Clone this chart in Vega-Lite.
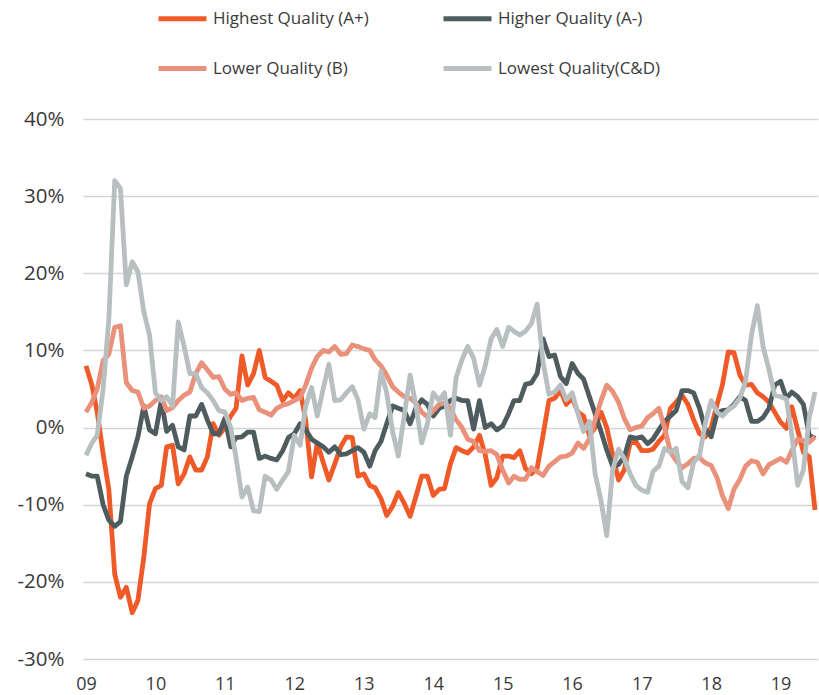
{
"$schema":"https://vega.github.io/schema/vega-lite/v6.json",
"width":735,"height":540,
"autosize":{"type":"none"},
"padding":{"left":83,"top":119,"right":1,"bottom":36},
"background":"white",
"config":{"view":{"stroke":null},"font":"Open Sans"},
"data":{"values":[
{"m":"2009-01","s":"A+","v":8},{"m":"2009-02","s":"A+","v":5.5},{"m":"2009-03","s":"A+","v":2},{"m":"2009-04","s":"A+","v":-3.4},{"m":"2009-05","s":"A+","v":-8},{"m":"2009-06","s":"A+","v":-19},{"m":"2009-07","s":"A+","v":-22},{"m":"2009-08","s":"A+","v":-20.7},{"m":"2009-09","s":"A+","v":-24},{"m":"2009-10","s":"A+","v":-22.4},{"m":"2009-11","s":"A+","v":-16.8},{"m":"2009-12","s":"A+","v":-9.9},
{"m":"2010-01","s":"A+","v":-7.9},{"m":"2010-02","s":"A+","v":-7.5},{"m":"2010-03","s":"A+","v":-2.5},{"m":"2010-04","s":"A+","v":-2.3},{"m":"2010-05","s":"A+","v":-7.3},{"m":"2010-06","s":"A+","v":-6},{"m":"2010-07","s":"A+","v":-3.8},{"m":"2010-08","s":"A+","v":-5.5},{"m":"2010-09","s":"A+","v":-5.5},{"m":"2010-10","s":"A+","v":-3.8},{"m":"2010-11","s":"A+","v":0.5},{"m":"2010-12","s":"A+","v":-1},
{"m":"2011-01","s":"A+","v":0},{"m":"2011-02","s":"A+","v":1.5},{"m":"2011-03","s":"A+","v":2.5},{"m":"2011-04","s":"A+","v":9.3},{"m":"2011-05","s":"A+","v":5.5},{"m":"2011-06","s":"A+","v":7},{"m":"2011-07","s":"A+","v":10},{"m":"2011-08","s":"A+","v":6.5},{"m":"2011-09","s":"A+","v":6},{"m":"2011-10","s":"A+","v":5.5},{"m":"2011-11","s":"A+","v":3.5},{"m":"2011-12","s":"A+","v":4.5},
{"m":"2012-01","s":"A+","v":3.8},{"m":"2012-02","s":"A+","v":4.8},{"m":"2012-03","s":"A+","v":1},{"m":"2012-04","s":"A+","v":-6.4},{"m":"2012-05","s":"A+","v":-2},{"m":"2012-06","s":"A+","v":-4.5},{"m":"2012-07","s":"A+","v":-6.8},{"m":"2012-08","s":"A+","v":-4.7},{"m":"2012-09","s":"A+","v":-2.5},{"m":"2012-10","s":"A+","v":-1.2},{"m":"2012-11","s":"A+","v":-1.3},{"m":"2012-12","s":"A+","v":-6.3},
{"m":"2013-01","s":"A+","v":-6},{"m":"2013-02","s":"A+","v":-7.5},{"m":"2013-03","s":"A+","v":-7.8},{"m":"2013-04","s":"A+","v":-9.2},{"m":"2013-05","s":"A+","v":-11.4},{"m":"2013-06","s":"A+","v":-10.2},{"m":"2013-07","s":"A+","v":-8.4},{"m":"2013-08","s":"A+","v":-9.8},{"m":"2013-09","s":"A+","v":-11.5},{"m":"2013-10","s":"A+","v":-9},{"m":"2013-11","s":"A+","v":-6.3},{"m":"2013-12","s":"A+","v":-6.3},
{"m":"2014-01","s":"A+","v":-8.8},{"m":"2014-02","s":"A+","v":-8},{"m":"2014-03","s":"A+","v":-7.9},{"m":"2014-04","s":"A+","v":-4.7},{"m":"2014-05","s":"A+","v":-2.6},{"m":"2014-06","s":"A+","v":-3},{"m":"2014-07","s":"A+","v":-3.3},{"m":"2014-08","s":"A+","v":-2.5},{"m":"2014-09","s":"A+","v":-1},{"m":"2014-10","s":"A+","v":-3.5},{"m":"2014-11","s":"A+","v":-7.5},{"m":"2014-12","s":"A+","v":-6.5},
{"m":"2015-01","s":"A+","v":-3.7},{"m":"2015-02","s":"A+","v":-3.7},{"m":"2015-03","s":"A+","v":-3.9},{"m":"2015-04","s":"A+","v":-3},{"m":"2015-05","s":"A+","v":-5.3},{"m":"2015-06","s":"A+","v":-6},{"m":"2015-07","s":"A+","v":-5.3},{"m":"2015-08","s":"A+","v":-1},{"m":"2015-09","s":"A+","v":3.5},{"m":"2015-10","s":"A+","v":3.8},{"m":"2015-11","s":"A+","v":4.8},{"m":"2015-12","s":"A+","v":3},
{"m":"2016-01","s":"A+","v":3.8},{"m":"2016-02","s":"A+","v":2},{"m":"2016-03","s":"A+","v":1.5},{"m":"2016-04","s":"A+","v":-1},{"m":"2016-05","s":"A+","v":0},{"m":"2016-06","s":"A+","v":2},{"m":"2016-07","s":"A+","v":0},{"m":"2016-08","s":"A+","v":-3.5},{"m":"2016-09","s":"A+","v":-6.8},{"m":"2016-10","s":"A+","v":-5.5},{"m":"2016-11","s":"A+","v":-2},{"m":"2016-12","s":"A+","v":-1.8},
{"m":"2017-01","s":"A+","v":-3},{"m":"2017-02","s":"A+","v":-3},{"m":"2017-03","s":"A+","v":-2.8},{"m":"2017-04","s":"A+","v":-1.8},{"m":"2017-05","s":"A+","v":-1},{"m":"2017-06","s":"A+","v":2.5},{"m":"2017-07","s":"A+","v":3.3},{"m":"2017-08","s":"A+","v":4.2},{"m":"2017-09","s":"A+","v":3},{"m":"2017-10","s":"A+","v":1},{"m":"2017-11","s":"A+","v":-0.8},{"m":"2017-12","s":"A+","v":-1.2},
{"m":"2018-01","s":"A+","v":0},{"m":"2018-02","s":"A+","v":3},{"m":"2018-03","s":"A+","v":5.5},{"m":"2018-04","s":"A+","v":9.8},{"m":"2018-05","s":"A+","v":9.7},{"m":"2018-06","s":"A+","v":6.8},{"m":"2018-07","s":"A+","v":5.5},{"m":"2018-08","s":"A+","v":5.6},{"m":"2018-09","s":"A+","v":4.5},{"m":"2018-10","s":"A+","v":4},{"m":"2018-11","s":"A+","v":3.3},{"m":"2018-12","s":"A+","v":2},
{"m":"2019-01","s":"A+","v":0.7},{"m":"2019-02","s":"A+","v":-0.1},{"m":"2019-03","s":"A+","v":2.7},{"m":"2019-04","s":"A+","v":-0.3},{"m":"2019-05","s":"A+","v":-3.2},{"m":"2019-06","s":"A+","v":-3.8},{"m":"2019-07","s":"A+","v":-10.7},
{"m":"2009-01","s":"A-","v":-6},{"m":"2009-02","s":"A-","v":-6.3},{"m":"2009-03","s":"A-","v":-6.3},{"m":"2009-04","s":"A-","v":-10},{"m":"2009-05","s":"A-","v":-12},{"m":"2009-06","s":"A-","v":-12.8},{"m":"2009-07","s":"A-","v":-12.2},{"m":"2009-08","s":"A-","v":-6.3},{"m":"2009-09","s":"A-","v":-3.8},{"m":"2009-10","s":"A-","v":-1.2},{"m":"2009-11","s":"A-","v":2.8},{"m":"2009-12","s":"A-","v":-0.3},
{"m":"2010-01","s":"A-","v":-0.8},{"m":"2010-02","s":"A-","v":3.5},{"m":"2010-03","s":"A-","v":-0.5},{"m":"2010-04","s":"A-","v":0.3},{"m":"2010-05","s":"A-","v":-2.5},{"m":"2010-06","s":"A-","v":-2.9},{"m":"2010-07","s":"A-","v":1.5},{"m":"2010-08","s":"A-","v":1.5},{"m":"2010-09","s":"A-","v":3},{"m":"2010-10","s":"A-","v":1},{"m":"2010-11","s":"A-","v":-0.8},{"m":"2010-12","s":"A-","v":-0.8},
{"m":"2011-01","s":"A-","v":1.2},{"m":"2011-02","s":"A-","v":-2.5},{"m":"2011-03","s":"A-","v":-1.3},{"m":"2011-04","s":"A-","v":-1.2},{"m":"2011-05","s":"A-","v":-0.6},{"m":"2011-06","s":"A-","v":-0.6},{"m":"2011-07","s":"A-","v":-4},{"m":"2011-08","s":"A-","v":-3.7},{"m":"2011-09","s":"A-","v":-4},{"m":"2011-10","s":"A-","v":-4.2},{"m":"2011-11","s":"A-","v":-3},{"m":"2011-12","s":"A-","v":-1.3},
{"m":"2012-01","s":"A-","v":-0.8},{"m":"2012-02","s":"A-","v":0.5},{"m":"2012-03","s":"A-","v":-0.3},{"m":"2012-04","s":"A-","v":-1.5},{"m":"2012-05","s":"A-","v":-2},{"m":"2012-06","s":"A-","v":-2.5},{"m":"2012-07","s":"A-","v":-3.2},{"m":"2012-08","s":"A-","v":-2.5},{"m":"2012-09","s":"A-","v":-3.5},{"m":"2012-10","s":"A-","v":-3.4},{"m":"2012-11","s":"A-","v":-3},{"m":"2012-12","s":"A-","v":-2.6},
{"m":"2013-01","s":"A-","v":-3.2},{"m":"2013-02","s":"A-","v":-5},{"m":"2013-03","s":"A-","v":-3},{"m":"2013-04","s":"A-","v":-1.8},{"m":"2013-05","s":"A-","v":0.5},{"m":"2013-06","s":"A-","v":2.8},{"m":"2013-07","s":"A-","v":2.5},{"m":"2013-08","s":"A-","v":2.2},{"m":"2013-09","s":"A-","v":0.5},{"m":"2013-10","s":"A-","v":2.5},{"m":"2013-11","s":"A-","v":3.6},{"m":"2013-12","s":"A-","v":3},
{"m":"2014-01","s":"A-","v":1.5},{"m":"2014-02","s":"A-","v":2.5},{"m":"2014-03","s":"A-","v":2.8},{"m":"2014-04","s":"A-","v":3.5},{"m":"2014-05","s":"A-","v":3.8},{"m":"2014-06","s":"A-","v":3.5},{"m":"2014-07","s":"A-","v":3.5},{"m":"2014-08","s":"A-","v":-0.2},{"m":"2014-09","s":"A-","v":3.5},{"m":"2014-10","s":"A-","v":0},{"m":"2014-11","s":"A-","v":0.5},{"m":"2014-12","s":"A-","v":-0.3},
{"m":"2015-01","s":"A-","v":0.2},{"m":"2015-02","s":"A-","v":1.8},{"m":"2015-03","s":"A-","v":3.5},{"m":"2015-04","s":"A-","v":3.5},{"m":"2015-05","s":"A-","v":5.6},{"m":"2015-06","s":"A-","v":5.8},{"m":"2015-07","s":"A-","v":7},{"m":"2015-08","s":"A-","v":11.5},{"m":"2015-09","s":"A-","v":9.2},{"m":"2015-10","s":"A-","v":9.4},{"m":"2015-11","s":"A-","v":6.6},{"m":"2015-12","s":"A-","v":5.7},
{"m":"2016-01","s":"A-","v":8.3},{"m":"2016-02","s":"A-","v":7},{"m":"2016-03","s":"A-","v":6.3},{"m":"2016-04","s":"A-","v":4},{"m":"2016-05","s":"A-","v":1.8},{"m":"2016-06","s":"A-","v":-0.5},{"m":"2016-07","s":"A-","v":-2.9},{"m":"2016-08","s":"A-","v":-5},{"m":"2016-09","s":"A-","v":-4.8},{"m":"2016-10","s":"A-","v":-3.8},{"m":"2016-11","s":"A-","v":-1.2},{"m":"2016-12","s":"A-","v":-1.4},
{"m":"2017-01","s":"A-","v":-1.2},{"m":"2017-02","s":"A-","v":-2.1},{"m":"2017-03","s":"A-","v":-1.5},{"m":"2017-04","s":"A-","v":-0.3},{"m":"2017-05","s":"A-","v":0.8},{"m":"2017-06","s":"A-","v":1.5},{"m":"2017-07","s":"A-","v":2.2},{"m":"2017-08","s":"A-","v":4.8},{"m":"2017-09","s":"A-","v":4.8},{"m":"2017-10","s":"A-","v":4.5},{"m":"2017-11","s":"A-","v":2.5},{"m":"2017-12","s":"A-","v":-0.2},
{"m":"2018-01","s":"A-","v":-1.2},{"m":"2018-02","s":"A-","v":1.8},{"m":"2018-03","s":"A-","v":2.2},{"m":"2018-04","s":"A-","v":2.3},{"m":"2018-05","s":"A-","v":3},{"m":"2018-06","s":"A-","v":4},{"m":"2018-07","s":"A-","v":3.5},{"m":"2018-08","s":"A-","v":0.8},{"m":"2018-09","s":"A-","v":0.8},{"m":"2018-10","s":"A-","v":1.3},{"m":"2018-11","s":"A-","v":2.5},{"m":"2018-12","s":"A-","v":5.5},
{"m":"2019-01","s":"A-","v":6},{"m":"2019-02","s":"A-","v":3.8},{"m":"2019-03","s":"A-","v":4.6},{"m":"2019-04","s":"A-","v":4},{"m":"2019-05","s":"A-","v":3},{"m":"2019-06","s":"A-","v":-1},{"m":"2019-07","s":"A-","v":-1.4},
{"m":"2009-01","s":"B","v":2},{"m":"2009-02","s":"B","v":3.3},{"m":"2009-03","s":"B","v":5},{"m":"2009-04","s":"B","v":8.7},{"m":"2009-05","s":"B","v":9.5},{"m":"2009-06","s":"B","v":13},{"m":"2009-07","s":"B","v":13.2},{"m":"2009-08","s":"B","v":5.8},{"m":"2009-09","s":"B","v":4.8},{"m":"2009-10","s":"B","v":4.6},{"m":"2009-11","s":"B","v":2.5},{"m":"2009-12","s":"B","v":2.8},
{"m":"2010-01","s":"B","v":3.5},{"m":"2010-02","s":"B","v":4},{"m":"2010-03","s":"B","v":2.2},{"m":"2010-04","s":"B","v":2.6},{"m":"2010-05","s":"B","v":3.5},{"m":"2010-06","s":"B","v":4.2},{"m":"2010-07","s":"B","v":4.6},{"m":"2010-08","s":"B","v":7},{"m":"2010-09","s":"B","v":8.4},{"m":"2010-10","s":"B","v":7.5},{"m":"2010-11","s":"B","v":6.5},{"m":"2010-12","s":"B","v":6.6},
{"m":"2011-01","s":"B","v":5},{"m":"2011-02","s":"B","v":4.3},{"m":"2011-03","s":"B","v":4.5},{"m":"2011-04","s":"B","v":3.5},{"m":"2011-05","s":"B","v":3.8},{"m":"2011-06","s":"B","v":3.9},{"m":"2011-07","s":"B","v":2.3},{"m":"2011-08","s":"B","v":2},{"m":"2011-09","s":"B","v":1.6},{"m":"2011-10","s":"B","v":2.5},{"m":"2011-11","s":"B","v":2.9},{"m":"2011-12","s":"B","v":3.1},
{"m":"2012-01","s":"B","v":3.5},{"m":"2012-02","s":"B","v":3.9},{"m":"2012-03","s":"B","v":5.5},{"m":"2012-04","s":"B","v":7.7},{"m":"2012-05","s":"B","v":9.2},{"m":"2012-06","s":"B","v":10},{"m":"2012-07","s":"B","v":9.8},{"m":"2012-08","s":"B","v":10.5},{"m":"2012-09","s":"B","v":9.5},{"m":"2012-10","s":"B","v":9.6},{"m":"2012-11","s":"B","v":10.7},{"m":"2012-12","s":"B","v":10.5},
{"m":"2013-01","s":"B","v":10.2},{"m":"2013-02","s":"B","v":10},{"m":"2013-03","s":"B","v":8.8},{"m":"2013-04","s":"B","v":8},{"m":"2013-05","s":"B","v":6.8},{"m":"2013-06","s":"B","v":5.3},{"m":"2013-07","s":"B","v":4.6},{"m":"2013-08","s":"B","v":4},{"m":"2013-09","s":"B","v":3.8},{"m":"2013-10","s":"B","v":3.2},{"m":"2013-11","s":"B","v":2},{"m":"2013-12","s":"B","v":1.4},
{"m":"2014-01","s":"B","v":2.2},{"m":"2014-02","s":"B","v":3},{"m":"2014-03","s":"B","v":3.2},{"m":"2014-04","s":"B","v":2.5},{"m":"2014-05","s":"B","v":1},{"m":"2014-06","s":"B","v":0},{"m":"2014-07","s":"B","v":-1.5},{"m":"2014-08","s":"B","v":-1.8},{"m":"2014-09","s":"B","v":-3},{"m":"2014-10","s":"B","v":-3.1},{"m":"2014-11","s":"B","v":-3},{"m":"2014-12","s":"B","v":-3.5},
{"m":"2015-01","s":"B","v":-5.5},{"m":"2015-02","s":"B","v":-7.2},{"m":"2015-03","s":"B","v":-6.3},{"m":"2015-04","s":"B","v":-6.7},{"m":"2015-05","s":"B","v":-6.7},{"m":"2015-06","s":"B","v":-5.2},{"m":"2015-07","s":"B","v":-5.7},{"m":"2015-08","s":"B","v":-6.2},{"m":"2015-09","s":"B","v":-5},{"m":"2015-10","s":"B","v":-4.4},{"m":"2015-11","s":"B","v":-3.8},{"m":"2015-12","s":"B","v":-3.7},
{"m":"2016-01","s":"B","v":-3.3},{"m":"2016-02","s":"B","v":-2},{"m":"2016-03","s":"B","v":-2.7},{"m":"2016-04","s":"B","v":-1.5},{"m":"2016-05","s":"B","v":1},{"m":"2016-06","s":"B","v":3.5},{"m":"2016-07","s":"B","v":5.5},{"m":"2016-08","s":"B","v":4.7},{"m":"2016-09","s":"B","v":3.3},{"m":"2016-10","s":"B","v":1.2},{"m":"2016-11","s":"B","v":-0.3},{"m":"2016-12","s":"B","v":0},
{"m":"2017-01","s":"B","v":0.2},{"m":"2017-02","s":"B","v":1.3},{"m":"2017-03","s":"B","v":1.8},{"m":"2017-04","s":"B","v":2.5},{"m":"2017-05","s":"B","v":0},{"m":"2017-06","s":"B","v":-3.2},{"m":"2017-07","s":"B","v":-4.3},{"m":"2017-08","s":"B","v":-5.2},{"m":"2017-09","s":"B","v":-4.7},{"m":"2017-10","s":"B","v":-4},{"m":"2017-11","s":"B","v":-3.9},{"m":"2017-12","s":"B","v":-4.6},
{"m":"2018-01","s":"B","v":-4.9},{"m":"2018-02","s":"B","v":-6.5},{"m":"2018-03","s":"B","v":-8.8},{"m":"2018-04","s":"B","v":-10.5},{"m":"2018-05","s":"B","v":-8},{"m":"2018-06","s":"B","v":-6.7},{"m":"2018-07","s":"B","v":-5},{"m":"2018-08","s":"B","v":-4.3},{"m":"2018-09","s":"B","v":-4.5},{"m":"2018-10","s":"B","v":-6},{"m":"2018-11","s":"B","v":-4.8},{"m":"2018-12","s":"B","v":-4.4},
{"m":"2019-01","s":"B","v":-4},{"m":"2019-02","s":"B","v":-4.5},{"m":"2019-03","s":"B","v":-3},{"m":"2019-04","s":"B","v":-1.5},{"m":"2019-05","s":"B","v":-1.7},{"m":"2019-06","s":"B","v":-1.9},{"m":"2019-07","s":"B","v":-1.2},
{"m":"2009-01","s":"CD","v":-3.6},{"m":"2009-02","s":"CD","v":-2},{"m":"2009-03","s":"CD","v":-1},{"m":"2009-04","s":"CD","v":5},{"m":"2009-05","s":"CD","v":14},{"m":"2009-06","s":"CD","v":32},{"m":"2009-07","s":"CD","v":31},{"m":"2009-08","s":"CD","v":18.5},{"m":"2009-09","s":"CD","v":21.5},{"m":"2009-10","s":"CD","v":20.2},{"m":"2009-11","s":"CD","v":15},{"m":"2009-12","s":"CD","v":12},
{"m":"2010-01","s":"CD","v":4.5},{"m":"2010-02","s":"CD","v":3.5},{"m":"2010-03","s":"CD","v":4},{"m":"2010-04","s":"CD","v":2.8},{"m":"2010-05","s":"CD","v":13.7},{"m":"2010-06","s":"CD","v":10.5},{"m":"2010-07","s":"CD","v":7},{"m":"2010-08","s":"CD","v":7},{"m":"2010-09","s":"CD","v":5.2},{"m":"2010-10","s":"CD","v":4.5},{"m":"2010-11","s":"CD","v":3.5},{"m":"2010-12","s":"CD","v":2.2},
{"m":"2011-01","s":"CD","v":2},{"m":"2011-02","s":"CD","v":0},{"m":"2011-03","s":"CD","v":-3.9},{"m":"2011-04","s":"CD","v":-9},{"m":"2011-05","s":"CD","v":-7.7},{"m":"2011-06","s":"CD","v":-10.8},{"m":"2011-07","s":"CD","v":-10.9},{"m":"2011-08","s":"CD","v":-6.3},{"m":"2011-09","s":"CD","v":-6.8},{"m":"2011-10","s":"CD","v":-8},{"m":"2011-11","s":"CD","v":-6.8},{"m":"2011-12","s":"CD","v":-5.7},
{"m":"2012-01","s":"CD","v":-1},{"m":"2012-02","s":"CD","v":-2.3},{"m":"2012-03","s":"CD","v":2.8},{"m":"2012-04","s":"CD","v":5.2},{"m":"2012-05","s":"CD","v":1.5},{"m":"2012-06","s":"CD","v":5},{"m":"2012-07","s":"CD","v":8.2},{"m":"2012-08","s":"CD","v":3.5},{"m":"2012-09","s":"CD","v":3.6},{"m":"2012-10","s":"CD","v":4.5},{"m":"2012-11","s":"CD","v":5.3},{"m":"2012-12","s":"CD","v":3.6},
{"m":"2013-01","s":"CD","v":-0.2},{"m":"2013-02","s":"CD","v":1.8},{"m":"2013-03","s":"CD","v":1.3},{"m":"2013-04","s":"CD","v":7.3},{"m":"2013-05","s":"CD","v":4.5},{"m":"2013-06","s":"CD","v":-0.5},{"m":"2013-07","s":"CD","v":-3.7},{"m":"2013-08","s":"CD","v":1.5},{"m":"2013-09","s":"CD","v":6.8},{"m":"2013-10","s":"CD","v":3},{"m":"2013-11","s":"CD","v":-2},{"m":"2013-12","s":"CD","v":0.5},
{"m":"2014-01","s":"CD","v":4.5},{"m":"2014-02","s":"CD","v":3.5},{"m":"2014-03","s":"CD","v":4.5},{"m":"2014-04","s":"CD","v":-1},{"m":"2014-05","s":"CD","v":6.5},{"m":"2014-06","s":"CD","v":8.8},{"m":"2014-07","s":"CD","v":10.5},{"m":"2014-08","s":"CD","v":9},{"m":"2014-09","s":"CD","v":5.5},{"m":"2014-10","s":"CD","v":8},{"m":"2014-11","s":"CD","v":11.5},{"m":"2014-12","s":"CD","v":12.7},
{"m":"2015-01","s":"CD","v":10.5},{"m":"2015-02","s":"CD","v":13},{"m":"2015-03","s":"CD","v":12.5},{"m":"2015-04","s":"CD","v":12},{"m":"2015-05","s":"CD","v":12.5},{"m":"2015-06","s":"CD","v":13.5},{"m":"2015-07","s":"CD","v":16},{"m":"2015-08","s":"CD","v":8.5},{"m":"2015-09","s":"CD","v":4.3},{"m":"2015-10","s":"CD","v":4.6},{"m":"2015-11","s":"CD","v":5.5},{"m":"2015-12","s":"CD","v":3.6},
{"m":"2016-01","s":"CD","v":4.5},{"m":"2016-02","s":"CD","v":1.8},{"m":"2016-03","s":"CD","v":-0.5},{"m":"2016-04","s":"CD","v":0.8},{"m":"2016-05","s":"CD","v":-6},{"m":"2016-06","s":"CD","v":-9.5},{"m":"2016-07","s":"CD","v":-14},{"m":"2016-08","s":"CD","v":-5.5},{"m":"2016-09","s":"CD","v":-2.8},{"m":"2016-10","s":"CD","v":-4},{"m":"2016-11","s":"CD","v":-6},{"m":"2016-12","s":"CD","v":-7.5},
{"m":"2017-01","s":"CD","v":-8.1},{"m":"2017-02","s":"CD","v":-8.4},{"m":"2017-03","s":"CD","v":-5.7},{"m":"2017-04","s":"CD","v":-5},{"m":"2017-05","s":"CD","v":-2.7},{"m":"2017-06","s":"CD","v":-3.2},{"m":"2017-07","s":"CD","v":-2.7},{"m":"2017-08","s":"CD","v":-7},{"m":"2017-09","s":"CD","v":-7.8},{"m":"2017-10","s":"CD","v":-4.5},{"m":"2017-11","s":"CD","v":-3.6},{"m":"2017-12","s":"CD","v":0.5},
{"m":"2018-01","s":"CD","v":3.5},{"m":"2018-02","s":"CD","v":2},{"m":"2018-03","s":"CD","v":1.5},{"m":"2018-04","s":"CD","v":2.3},{"m":"2018-05","s":"CD","v":2.8},{"m":"2018-06","s":"CD","v":3.8},{"m":"2018-07","s":"CD","v":6},{"m":"2018-08","s":"CD","v":12},{"m":"2018-09","s":"CD","v":15.8},{"m":"2018-10","s":"CD","v":10.5},{"m":"2018-11","s":"CD","v":7.5},{"m":"2018-12","s":"CD","v":4.2},
{"m":"2019-01","s":"CD","v":4},{"m":"2019-02","s":"CD","v":3.7},{"m":"2019-03","s":"CD","v":-1},{"m":"2019-04","s":"CD","v":-7.5},{"m":"2019-05","s":"CD","v":-5.5},{"m":"2019-06","s":"CD","v":1.3},{"m":"2019-07","s":"CD","v":4.6}
]},
"mark":{"type":"line","strokeWidth":4.8,"strokeJoin":"round","strokeCap":"butt"},
"encoding":{
"x":{"field":"m","type":"temporal","title":null,
"scale":{"type":"utc","domain":[{"year":2009,"month":1,"date":1,"utc":true},{"year":2019,"month":7,"date":1,"utc":true}],"padding":3},
"axis":{"values":[{"year":2009,"month":1,"date":1,"utc":true},{"year":2010,"month":1,"date":1,"utc":true},{"year":2011,"month":1,"date":1,"utc":true},{"year":2012,"month":1,"date":1,"utc":true},{"year":2013,"month":1,"date":1,"utc":true},{"year":2014,"month":1,"date":1,"utc":true},{"year":2015,"month":1,"date":1,"utc":true},{"year":2016,"month":1,"date":1,"utc":true},{"year":2017,"month":1,"date":1,"utc":true},{"year":2018,"month":1,"date":1,"utc":true},{"year":2019,"month":1,"date":1,"utc":true}],
"labelExpr":"utcFormat(datum.value, '%y')","grid":false,"domain":false,"ticks":false,"labelFontSize":18,"labelColor":"#3a3a3a","labelPadding":16,"labelFlush":false,"labelOverlap":false}},
"y":{"field":"v","type":"quantitative","title":null,
"scale":{"domain":[-30,40],"nice":false,"zero":false},
"axis":{"values":[-30,-20,-10,0,10,20,30,40],"labelExpr":"datum.value + '%'","domain":false,"ticks":false,"grid":true,"gridColor":"#D3D6D7","gridWidth":1.5,"labelFontSize":20.5,"labelColor":"#3a3a3a","labelPadding":19}},
"color":{"field":"s","type":"nominal",
"scale":{"domain":["A+","A-","B","CD"],"range":["#F05A28","#4E5B5F","#E9917A","#B7BFC1"]},
"legend":{"title":null,"orient":"none","legendX":73,"legendY":-127,"direction":"horizontal","columns":2,"columnPadding":64,"rowPadding":13,
"symbolType":"stroke","symbolSize":2304,"symbolStrokeWidth":5,"labelFontSize":17,"labelColor":"#3a3a3a","labelOffset":4,"labelLimit":400,
"labelExpr":"datum.label == 'A+' ? 'Highest Quality (A+)' : datum.label == 'A-' ? 'Higher Quality (A-)' : datum.label == 'B' ? 'Lower Quality (B)' : 'Lowest Quality(C&D)'"}}
}
}
